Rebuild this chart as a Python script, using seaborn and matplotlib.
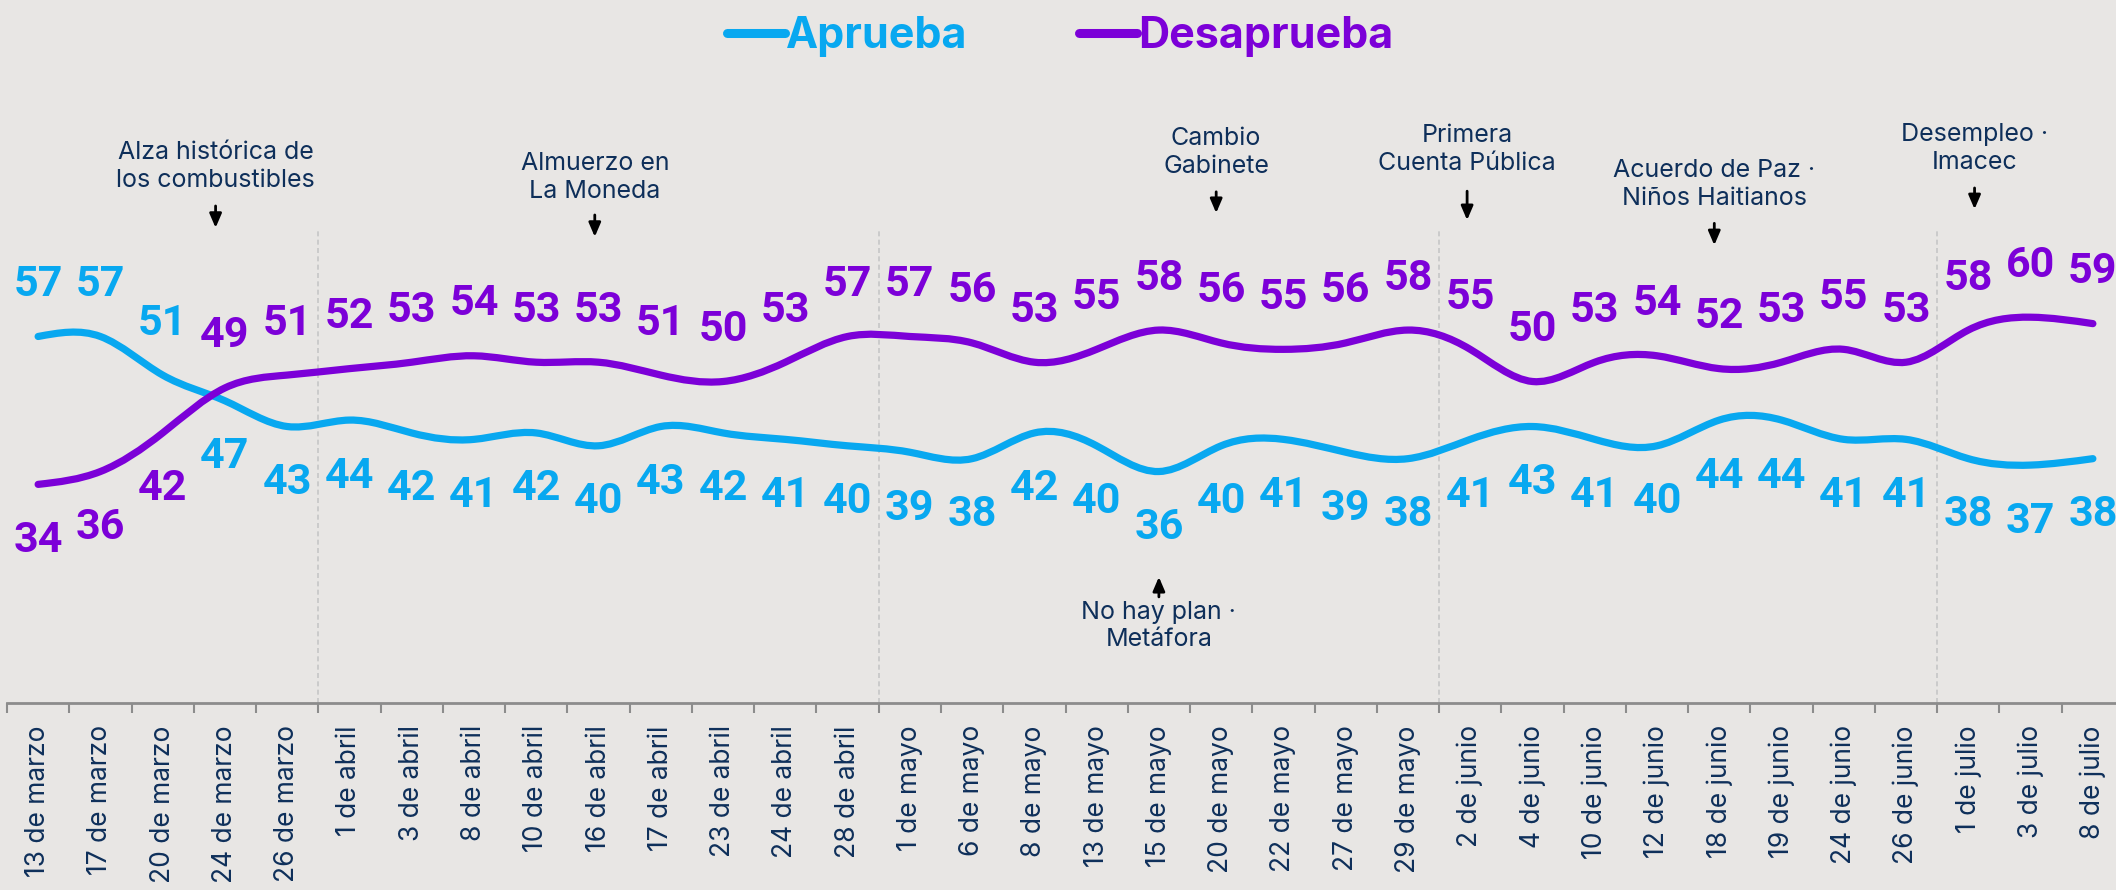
import numpy as np
import pandas as pd
import matplotlib
matplotlib.use("Agg")
import matplotlib.pyplot as plt
import seaborn as sns
from matplotlib.path import Path
from matplotlib.patches import PathPatch
from matplotlib.lines import Line2D

# ---------------- data ----------------
fechas = [
    "13 de marzo", "17 de marzo", "20 de marzo", "24 de marzo", "26 de marzo",
    "1 de abril", "3 de abril", "8 de abril", "10 de abril", "16 de abril",
    "17 de abril", "23 de abril", "24 de abril", "28 de abril",
    "1 de mayo", "6 de mayo", "8 de mayo", "13 de mayo", "15 de mayo",
    "20 de mayo", "22 de mayo", "27 de mayo", "29 de mayo",
    "2 de junio", "4 de junio", "10 de junio", "12 de junio", "18 de junio",
    "19 de junio", "24 de junio", "26 de junio",
    "1 de julio", "3 de julio", "8 de julio",
]
aprueba = [57, 57, 51, 47, 43, 44, 42, 41, 42, 40, 43, 42, 41, 40,
           39, 38, 42, 40, 36, 40, 41, 39, 38,
           41, 43, 41, 40, 44, 44, 41, 41, 38, 37, 38]
desaprueba = [34, 36, 42, 49, 51, 52, 53, 54, 53, 53, 51, 50, 53, 57,
              57, 56, 53, 55, 58, 56, 55, 56, 58,
              55, 50, 53, 54, 52, 53, 55, 53, 58, 60, 59]
series = ["Aprueba", "Desaprueba"]

eventos_texto = ["Alza histórica de\nlos combustibles", "Almuerzo en\nLa Moneda",
                 "Cambio\nGabinete", "Primera\nCuenta Pública",
                 "Acuerdo de Paz ·\nNiños Haitianos", "Desempleo ·\nImacec"]
eventos_fecha = ["24 de marzo", "16 de abril", "20 de mayo", "2 de junio",
                 "18 de junio", "1 de julio"]
evento_abajo_texto = "No hay plan ·\nMetáfora"
evento_abajo_fecha = "15 de mayo"
inicio_mes = ["1 de abril", "1 de mayo", "2 de junio", "1 de julio"]

# ---------------- style ----------------
BG = "#e8e6e4"
C_AP = "#08a8f0"
C_DE = "#7c00d8"
NAVY = "#0e2f5a"
AXIS = "#8c8c8c"

sns.set_theme(style="white", rc={"axes.facecolor": BG, "figure.facecolor": BG})
plt.rcParams["font.family"] = ["Inter", "DejaVu Sans"]

W, H = 2116, 890
fig = plt.figure(figsize=(W / 100, H / 100), dpi=100)
ax = fig.add_axes([7 / W, (H - 703) / H, 2117 / W, 643 / H])
ax.set_facecolor(BG)

n = len(fechas)
xs = np.arange(n)
df = pd.DataFrame({
    "x": np.concatenate([xs, xs]),
    "valor": aprueba + desaprueba,
    "serie": [series[0]] * n + [series[1]] * n,
})
sns.lineplot(data=df, x="x", y="valor", hue="serie",
             palette={series[0]: C_AP, series[1]: C_DE},
             lw=0, legend=False, ax=ax)


def natural_path(x, y):
    """Natural cubic spline through the data points, as Bezier segments."""
    x = np.asarray(x, float)
    y = np.asarray(y, float)
    m = len(y)
    A = np.zeros((m, m))
    r = np.zeros(m)
    A[0, 0], A[0, 1], r[0] = 2, 1, 3 * (y[1] - y[0])
    for i in range(1, m - 1):
        A[i, i - 1], A[i, i], A[i, i + 1] = 1, 4, 1
        r[i] = 3 * (y[i + 1] - y[i - 1])
    A[-1, -2], A[-1, -1], r[-1] = 1, 2, 3 * (y[-1] - y[-2])
    D = np.linalg.solve(A, r)
    verts = [(x[0], y[0])]
    codes = [Path.MOVETO]
    for i in range(m - 1):
        dx = x[i + 1] - x[i]
        verts += [(x[i] + dx / 3, y[i] + D[i] / 3),
                  (x[i + 1] - dx / 3, y[i + 1] - D[i + 1] / 3),
                  (x[i + 1], y[i + 1])]
        codes += [Path.CURVE4] * 3
    return Path(verts, codes)


for vals, col in [(aprueba, C_AP), (desaprueba, C_DE)]:
    p = natural_path(xs, vals)
    ax.add_patch(PathPatch(p, facecolor="none", edgecolor=col, lw=5.2,
                           capstyle="round", joinstyle="round", zorder=3))

# data labels
for i in range(n):
    a, d = aprueba[i], desaprueba[i]
    a_up = a > d
    for v, col, up in [(a, C_AP, a_up), (d, C_DE, not a_up)]:
        ax.annotate(str(v), (i, v), xytext=(0, 52 if up else -56),
                    textcoords="offset pixels", ha="center", va="center",
                    fontsize=31, fontweight="bold", color=col,
                    family=["Roboto", "DejaVu Sans"], zorder=4)

# month separators
for f in inicio_mes:
    ax.vlines(fechas.index(f) - 0.5, 0, 73.9, colors="#c6c6c6",
              linestyles=(0, (3, 2)), lw=1.2, zorder=1)

# events above
lay_text = [83.4, 81.7, 85.6, 86.1, 80.6, 86.2]
lay_tail = [77.3, 75.9, 79.5, 79.6, 74.6, 80.1]
lay_tip = [73.9, 72.5, 76.2, 75.1, 71.2, 76.8]
lay_dx = [-0.15, -0.06, -0.08, -0.05, -0.08, 0.1]
for k, (t, f) in enumerate(zip(eventos_texto, eventos_fecha)):
    xi = fechas.index(f) + lay_dx[k]
    ax.text(xi, lay_text[k], t, ha="center", va="center", fontsize=18,
            color=NAVY, linespacing=1.25)
    ax.annotate("", xy=(xi, lay_tip[k]), xytext=(xi, lay_tail[k]),
                arrowprops=dict(arrowstyle="-|>,head_width=0.3,head_length=0.7",
                                color="black", lw=2, shrinkA=0, shrinkB=0))

# event below
xi = fechas.index(evento_abajo_fecha)
ax.text(xi, 12.0, evento_abajo_texto, ha="center", va="center", fontsize=18,
        color=NAVY, linespacing=1.25)
ax.annotate("", xy=(xi, 19.6), xytext=(xi, 16.5),
            arrowprops=dict(arrowstyle="-|>,head_width=0.3,head_length=0.7",
                            color="black", lw=2, shrinkA=0, shrinkB=0))

# axes
ax.set_xlim(-0.5, n - 0.5)
ax.set_ylim(0, 100)
for s in ["top", "left", "right"]:
    ax.spines[s].set_visible(False)
ax.spines["bottom"].set_color(AXIS)
ax.spines["bottom"].set_linewidth(2)
ax.set_yticks([])
ax.set_xticks(np.arange(-0.5, n, 1.0))
ax.set_xticklabels([])
ax.tick_params(axis="x", which="major", length=7.2, width=1.5, color=AXIS,
               direction="out", bottom=True)
ax.set_xticks(xs, minor=True)
ax.set_xticklabels(fechas, minor=True, rotation=90, ha="center", va="top",
                   fontsize=19, color=NAVY)
ax.tick_params(axis="x", which="minor", length=0, pad=16)
ax.set_xlabel("")
ax.set_ylabel("")

# legend
handles = [Line2D([0], [0], color=C_AP, lw=6.5, solid_capstyle="round"),
           Line2D([0], [0], color=C_DE, lw=6.5, solid_capstyle="round")]
fig.legend(handles, series, loc="upper center", bbox_to_anchor=(0.501, 1.026),
           ncol=2, frameon=False, handlelength=1.35, handletextpad=0.02,
           columnspacing=2.6, labelcolor=[C_AP, C_DE],
           prop={"family": ["Inter", "DejaVu Sans"], "weight": "bold", "size": 31})

fig.savefig("out.png", dpi=100, facecolor=BG)
